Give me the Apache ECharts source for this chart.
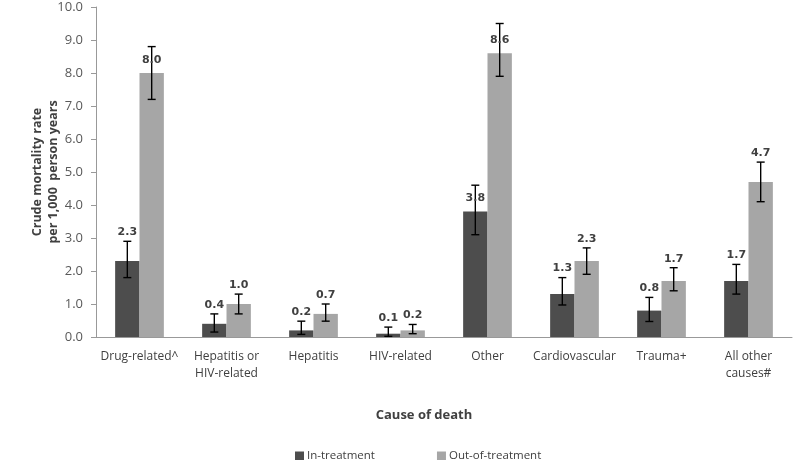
<!DOCTYPE html>
<html>
<head>
<meta charset="utf-8">
<script src="https://cdn.jsdelivr.net/npm/echarts@6/dist/echarts.min.js"></script>
<style>html,body{margin:0;padding:0;background:#fff;}#c{width:800px;height:460px;}</style>
</head>
<body>
<div id="c"></div>
<script>
const categories = ['Drug-related^', 'Hepatitis or\nHIV-related', 'Hepatitis', 'HIV-related', 'Other', 'Cardiovascular', 'Trauma+', 'All other\ncauses#'];
const inTreatment = [2.3, 0.4, 0.2, 0.1, 3.8, 1.3, 0.8, 1.7];
const inLow = [1.8, 0.15, 0.08, 0.02, 3.1, 0.97, 0.47, 1.3];
const inHigh = [2.9, 0.7, 0.48, 0.3, 4.6, 1.8, 1.2, 2.2];
const outTreatment = [8.0, 1.0, 0.7, 0.2, 8.6, 2.3, 1.7, 4.7];
const outLow = [7.2, 0.7, 0.48, 0.1, 7.9, 1.9, 1.4, 4.1];
const outHigh = [8.8, 1.3, 1.0, 0.38, 9.5, 2.7, 2.1, 5.3];
const yTicks = [0, 1, 2, 3, 4, 5, 6, 7, 8, 9, 10];

const FONT = '"Open Sans", "DejaVu Sans", sans-serif';
const chart = echarts.init(document.getElementById('c'), null, {renderer: 'canvas'});

function errorSeries(values, lows, highs, side) {
  return {
    type: 'custom',
    z: 10,
    silent: true,
    data: values.map((v, i) => [i, v, lows[i], highs[i]]),
    renderItem: function (params, api) {
      const i = api.value(0), v = api.value(1), lo = api.value(2), hi = api.value(3);
      const band = api.size([1, 0])[0];
      const base = api.coord([i, v]);
      const x = base[0] + side * band * 0.14;
      const yv = base[1];
      const yLo = api.coord([i, lo])[1];
      const yHi = api.coord([i, hi])[1];
      const cap = 4;
      const ls = {stroke: '#000', lineWidth: 1.4};
      const labelY = (yv - yHi) > 22 ? yv - 13 : yHi - 9;
      return {
        type: 'group',
        children: [
          {type: 'line', shape: {x1: x, y1: yLo, x2: x, y2: yHi}, style: ls},
          {type: 'line', shape: {x1: x - cap, y1: yHi, x2: x + cap, y2: yHi}, style: ls},
          {type: 'line', shape: {x1: x - cap, y1: yLo, x2: x + cap, y2: yLo}, style: ls},
          {type: 'text', z2: 20, style: {x: x, y: labelY, text: v.toFixed(1), fill: '#404040',
            font: 'bold 11px "DejaVu Sans", sans-serif', textAlign: 'center', textVerticalAlign: 'middle'}}
        ]
      };
    }
  };
}

chart.setOption({
  animation: false,
  backgroundColor: '#fff',
  grid: {left: 96, right: 8, top: 7, bottom: 123},
  title: {
    text: 'Cause of death', left: 419, top: 404, textAlign: 'center',
    textStyle: {fontFamily: FONT, fontSize: 13, fontWeight: 'bold', color: '#404040'}
  },
  legend: {
    data: ['In-treatment', 'Out-of-treatment'],
    left: 290, top: 445,
    icon: 'rect', itemWidth: 9, itemHeight: 9, itemGap: 62,
    textStyle: {fontFamily: FONT, fontSize: 11.5, color: '#404040', padding: [0, 0, 0, -2]}
  },
  xAxis: {
    type: 'category',
    data: categories,
    axisLine: {lineStyle: {color: '#999999'}},
    axisTick: {length: 5, lineStyle: {color: '#999999'}},
    axisLabel: {fontFamily: FONT, fontSize: 12, color: '#404040', margin: 11, lineHeight: 17, interval: 0}
  },
  yAxis: {
    type: 'value',
    min: yTicks[0], max: yTicks[yTicks.length - 1], interval: 1,
    name: 'Crude mortality rate\nper 1,000  person years',
    nameLocation: 'middle', nameGap: 35, nameRotate: 90, nameMoveOverlap: false,
    nameTextStyle: {fontFamily: FONT, fontSize: 12.5, fontWeight: 'bold', color: '#404040', lineHeight: 16},
    axisLine: {show: true, lineStyle: {color: '#999999'}},
    axisTick: {show: true, length: 5, lineStyle: {color: '#999999'}},
    splitLine: {show: false},
    axisLabel: {fontFamily: FONT, fontSize: 13, color: '#595959', margin: 13, formatter: v => v.toFixed(1)}
  },
  series: [
    {name: 'In-treatment', type: 'bar', data: inTreatment, barGap: '0%', barCategoryGap: '44%',
      itemStyle: {color: '#4d4d4d'}},
    {name: 'Out-of-treatment', type: 'bar', data: outTreatment, barGap: '0%', barCategoryGap: '44%',
      itemStyle: {color: '#a6a6a6'}},
    errorSeries(inTreatment, inLow, inHigh, -1),
    errorSeries(outTreatment, outLow, outHigh, 1)
  ]
});
</script>
</body>
</html>
